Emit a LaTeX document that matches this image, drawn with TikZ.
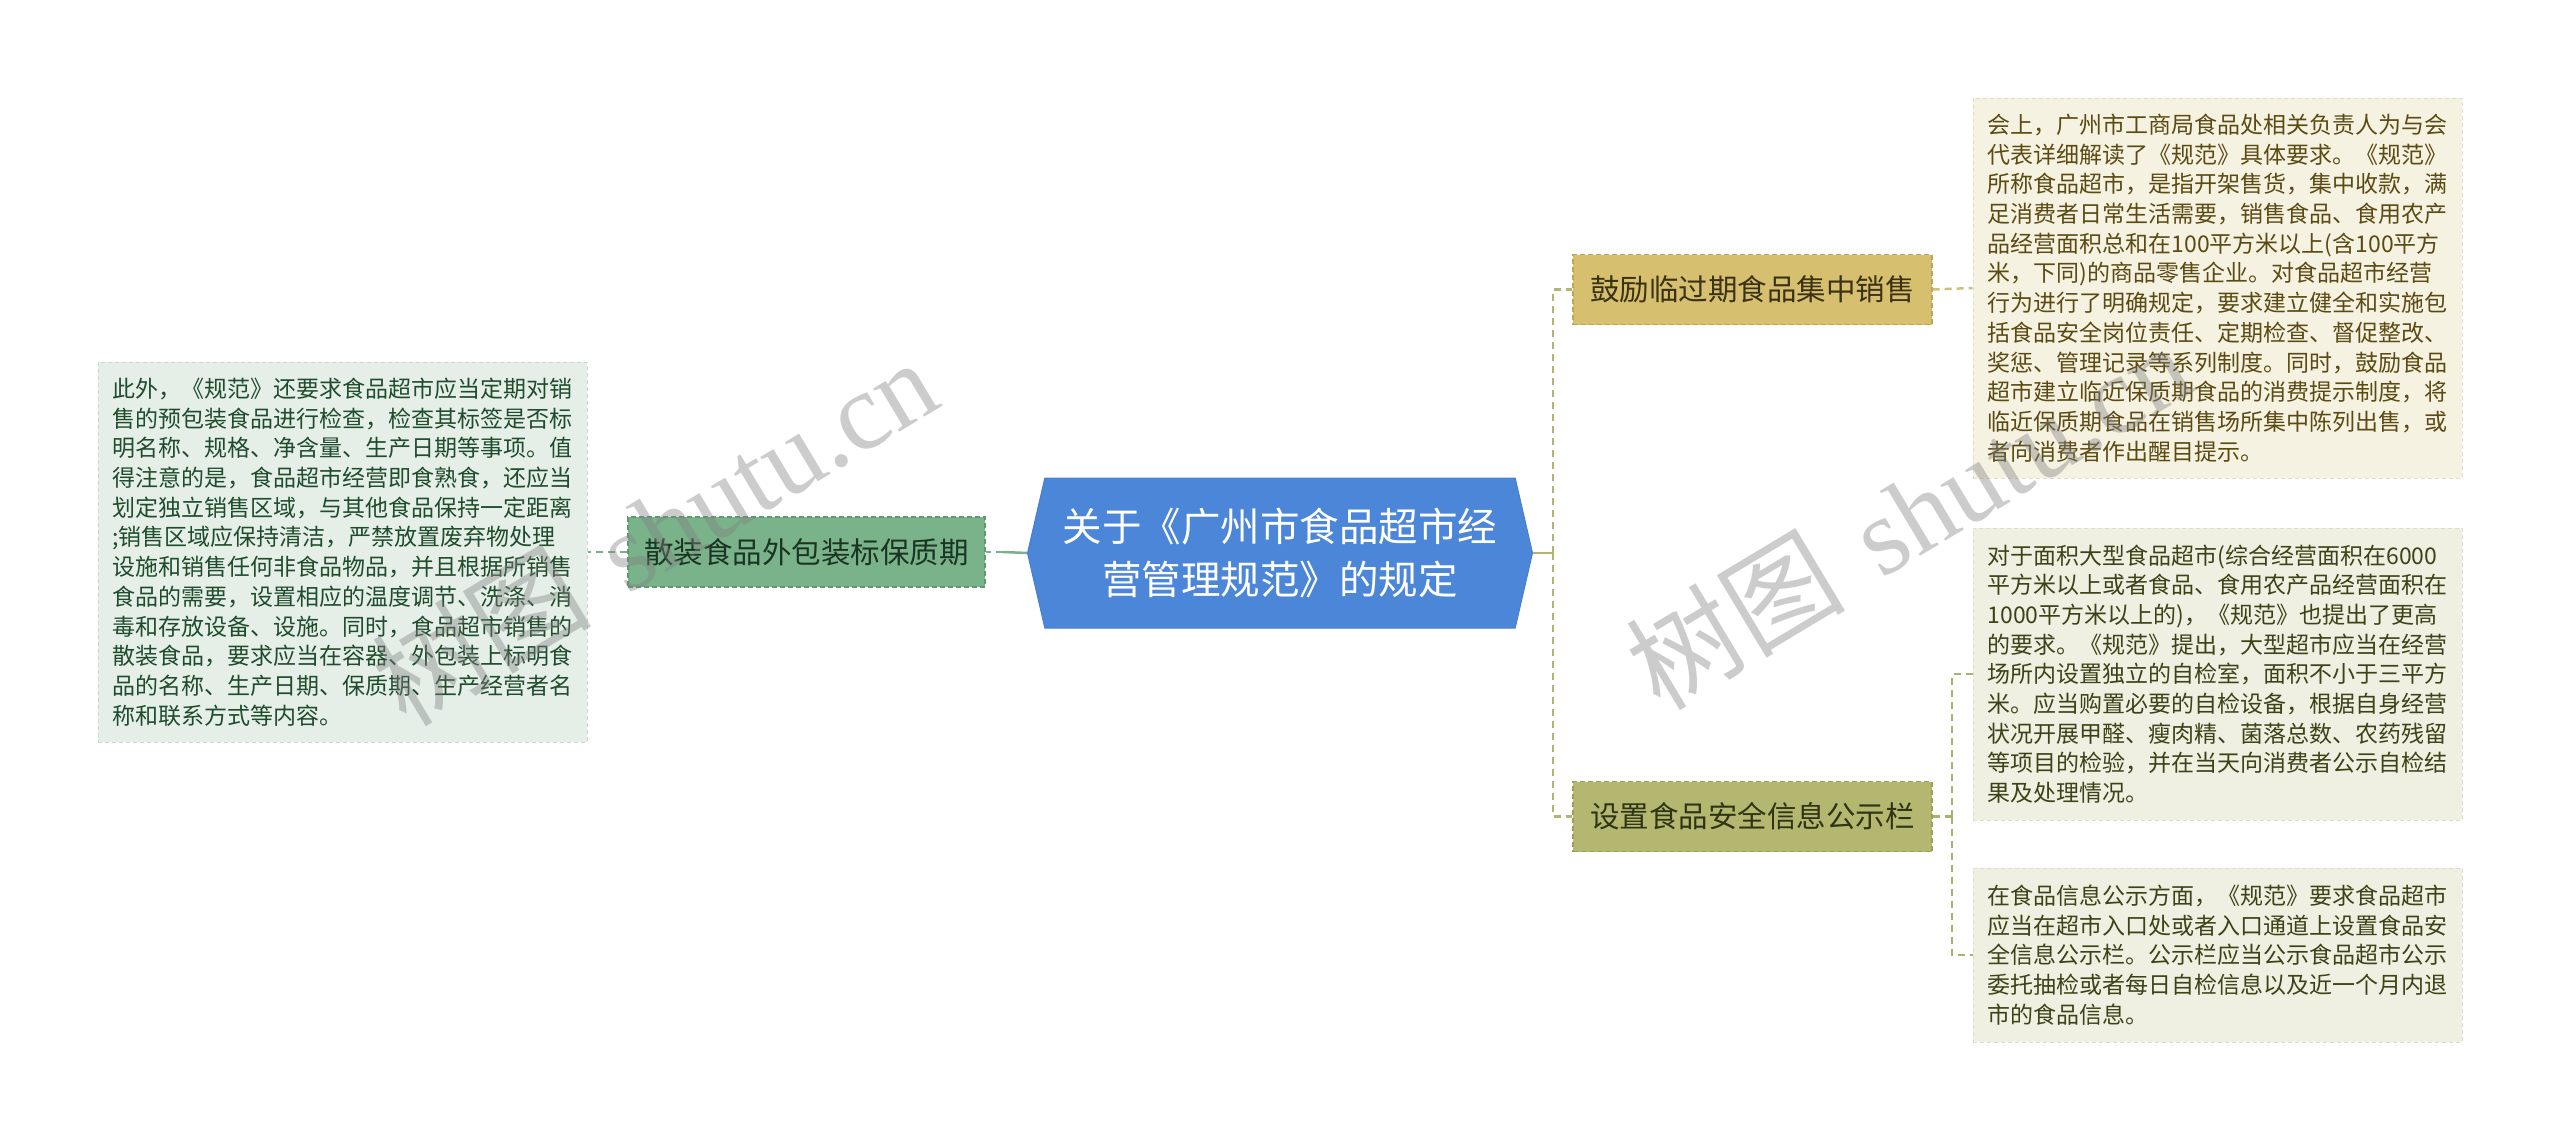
\documentclass[tikz,border=0pt]{standalone}
\usepackage{fontspec}
\setmainfont{Noto Sans CJK SC}
\newfontfamily\wmlatin{Liberation Serif}
\usetikzlibrary{shapes.symbols}
\definecolor{hexfill}{HTML}{4C86D9}
\definecolor{hexdraw}{HTML}{4A80D0}
\definecolor{lbfill}{HTML}{7AB28A}
\definecolor{lbdraw}{HTML}{5E9A70}
\definecolor{lbtext}{HTML}{1B3524}
\definecolor{ltfill}{HTML}{E5EFE7}
\definecolor{ltdraw}{HTML}{C9DACD}
\definecolor{lttext}{HTML}{1F4C2C}
\definecolor{linkL}{HTML}{7CB08B}
\definecolor{rbAfill}{HTML}{D6BF6F}
\definecolor{rbAdraw}{HTML}{BFA552}
\definecolor{rbAtext}{HTML}{3B3214}
\definecolor{rtAfill}{HTML}{F5F2E2}
\definecolor{rtAdraw}{HTML}{E3DDC3}
\definecolor{rtAtext}{HTML}{5B4A12}
\definecolor{rbBfill}{HTML}{B3B76F}
\definecolor{rbBdraw}{HTML}{9CA158}
\definecolor{rbBtext}{HTML}{2F3414}
\definecolor{rtBfill}{HTML}{EFEFE2}
\definecolor{rtBdraw}{HTML}{DDDDC8}
\definecolor{rtBtext}{HTML}{3C4316}
\definecolor{linkR}{HTML}{B3B474}
\definecolor{linkA}{HTML}{D0BE7C}
\definecolor{linkB}{HTML}{ABB06E}
\begin{document}
\begin{tikzpicture}[x=1pt,y=-1pt,
  txtbox/.style={align=left, inner sep=0pt, minimum width=489pt, line width=1pt,
    dash pattern=on 4pt off 3pt, font=\fontsize{23}{29.7}\selectfont},
  branch/.style={inner sep=0pt, minimum height=70pt, line width=1.2pt,
    dash pattern=on 5pt off 3pt, font=\fontsize{29.5}{34}\selectfont},
  link/.style={line width=2.5pt},
  dlink/.style={line width=2.5pt, dash pattern=on 7pt off 5pt},
  wm/.style={text=black!50, text opacity=0.4, font=\fontsize{110}{114}\selectfont, rotate=31}
]
\useasboundingbox (0,0) rectangle (2560,1141);
\fill[white] (0,0) rectangle (2560,1141);

% root
\node[signal, signal to=east and west, signal pointer angle=154,
  minimum width=505pt, minimum height=150pt, inner sep=0pt,
  fill=hexfill, draw=hexdraw, line width=1pt, text=white, align=center,
  font=\fontsize{39.5}{53}\selectfont] (root) at (1280,553)
  {关于《广州市食品超市经\\营管理规范》的规定};

% left branch
\node[branch, minimum width=357pt, fill=lbfill, draw=lbdraw, text=lbtext] (lb) at (806.5,552) {散装食品外包装标保质期};
\node[txtbox, minimum height=380pt, fill=ltfill, draw=ltdraw, text=lttext] (lt) at (342.5,552)
{此外，《规范》还要求食品超市应当定期对销\\
售的预包装食品进行检查，检查其标签是否标\\
明名称、规格、净含量、生产日期等事项。值\\
得注意的是，食品超市经营即食熟食，还应当\\
划定独立销售区域，与其他食品保持一定距离\\
;销售区域应保持清洁，严禁放置废弃物处理\\
设施和销售任何非食品物品，并且根据所销售\\
食品的需要，设置相应的温度调节、洗涤、消\\
毒和存放设备、设施。同时，食品超市销售的\\
散装食品，要求应当在容器、外包装上标明食\\
品的名称、生产日期、保质期、生产经营者名\\
称和联系方式等内容。};

% right branches
\node[branch, minimum width=359pt, fill=rbAfill, draw=rbAdraw, text=rbAtext] (bA) at (1752.5,289.5) {鼓励临过期食品集中销售};
\node[branch, minimum width=359pt, fill=rbBfill, draw=rbBdraw, text=rbBtext] (bB) at (1752.5,816.5) {设置食品安全信息公示栏};

\node[txtbox, minimum height=380pt, fill=rtAfill, draw=rtAdraw, text=rtAtext] (tA) at (2217.5,288)
{会上，广州市工商局食品处相关负责人为与会\\
代表详细解读了《规范》具体要求。《规范》\\
所称食品超市，是指开架售货，集中收款，满\\
足消费者日常生活需要，销售食品、食用农产\\
品经营面积总和在100平方米以上(含100平方\\
米，下同)的商品零售企业。对食品超市经营\\
行为进行了明确规定，要求建立健全和实施包\\
括食品安全岗位责任、定期检查、督促整改、\\
奖惩、管理记录等系列制度。同时，鼓励食品\\
超市建立临近保质期食品的消费提示制度，将\\
临近保质期食品在销售场所集中陈列出售，或\\
者向消费者作出醒目提示。};

\node[txtbox, minimum height=292pt, fill=rtBfill, draw=rtBdraw, text=rtBtext] (tB) at (2217.5,674)
{对于面积大型食品超市(综合经营面积在6000\\
平方米以上或者食品、食用农产品经营面积在\\
1000平方米以上的)，《规范》也提出了更高\\
的要求。《规范》提出，大型超市应当在经营\\
场所内设置独立的自检室，面积不小于三平方\\
米。应当购置必要的自检设备，根据自身经营\\
状况开展甲醛、瘦肉精、菌落总数、农药残留\\
等项目的检验，并在当天向消费者公示自检结\\
果及处理情况。};

\node[txtbox, minimum height=174pt, fill=rtBfill, draw=rtBdraw, text=rtBtext] (tC) at (2217.5,955)
{在食品信息公示方面，《规范》要求食品超市\\
应当在超市入口处或者入口通道上设置食品安\\
全信息公示栏。公示栏应当公示食品超市公示\\
委托抽检或者每日自检信息以及近一个月内退\\
市的食品信息。};

% connectors
\coordinate (spL) at (1003,552);
\coordinate (spR) at (1553,553);
\coordinate (spB) at (1952,816.5);
\draw[link, linkL] (root.west) -- (spL);
\draw[dlink, linkL] (spL) -- (lb.east);
\draw[dlink, linkL] (lb.west) -- (lt.east);
\draw[link, linkR] (root.east) -- (spR);
\draw[dlink, linkR] (spR) |- (bA.west);
\draw[dlink, linkR] (spR) |- (bB.west);
\draw[dlink, linkA] (bA.east) -- (tA.west);
\draw[dlink, linkB] (bB.east) -- (spB);
\draw[dlink, linkB] (spB) |- (tB.west);
\draw[dlink, linkB] (spB) |- (tC.west);

% watermarks
\node[wm] (wmA) at (654,531) {树图\hspace{0.35em}{\wmlatin shutu.cn}};
\node[wm] (wmB) at (1908,515) {树图\hspace{0.35em}{\wmlatin shutu.cn}};
\end{tikzpicture}
\end{document}
